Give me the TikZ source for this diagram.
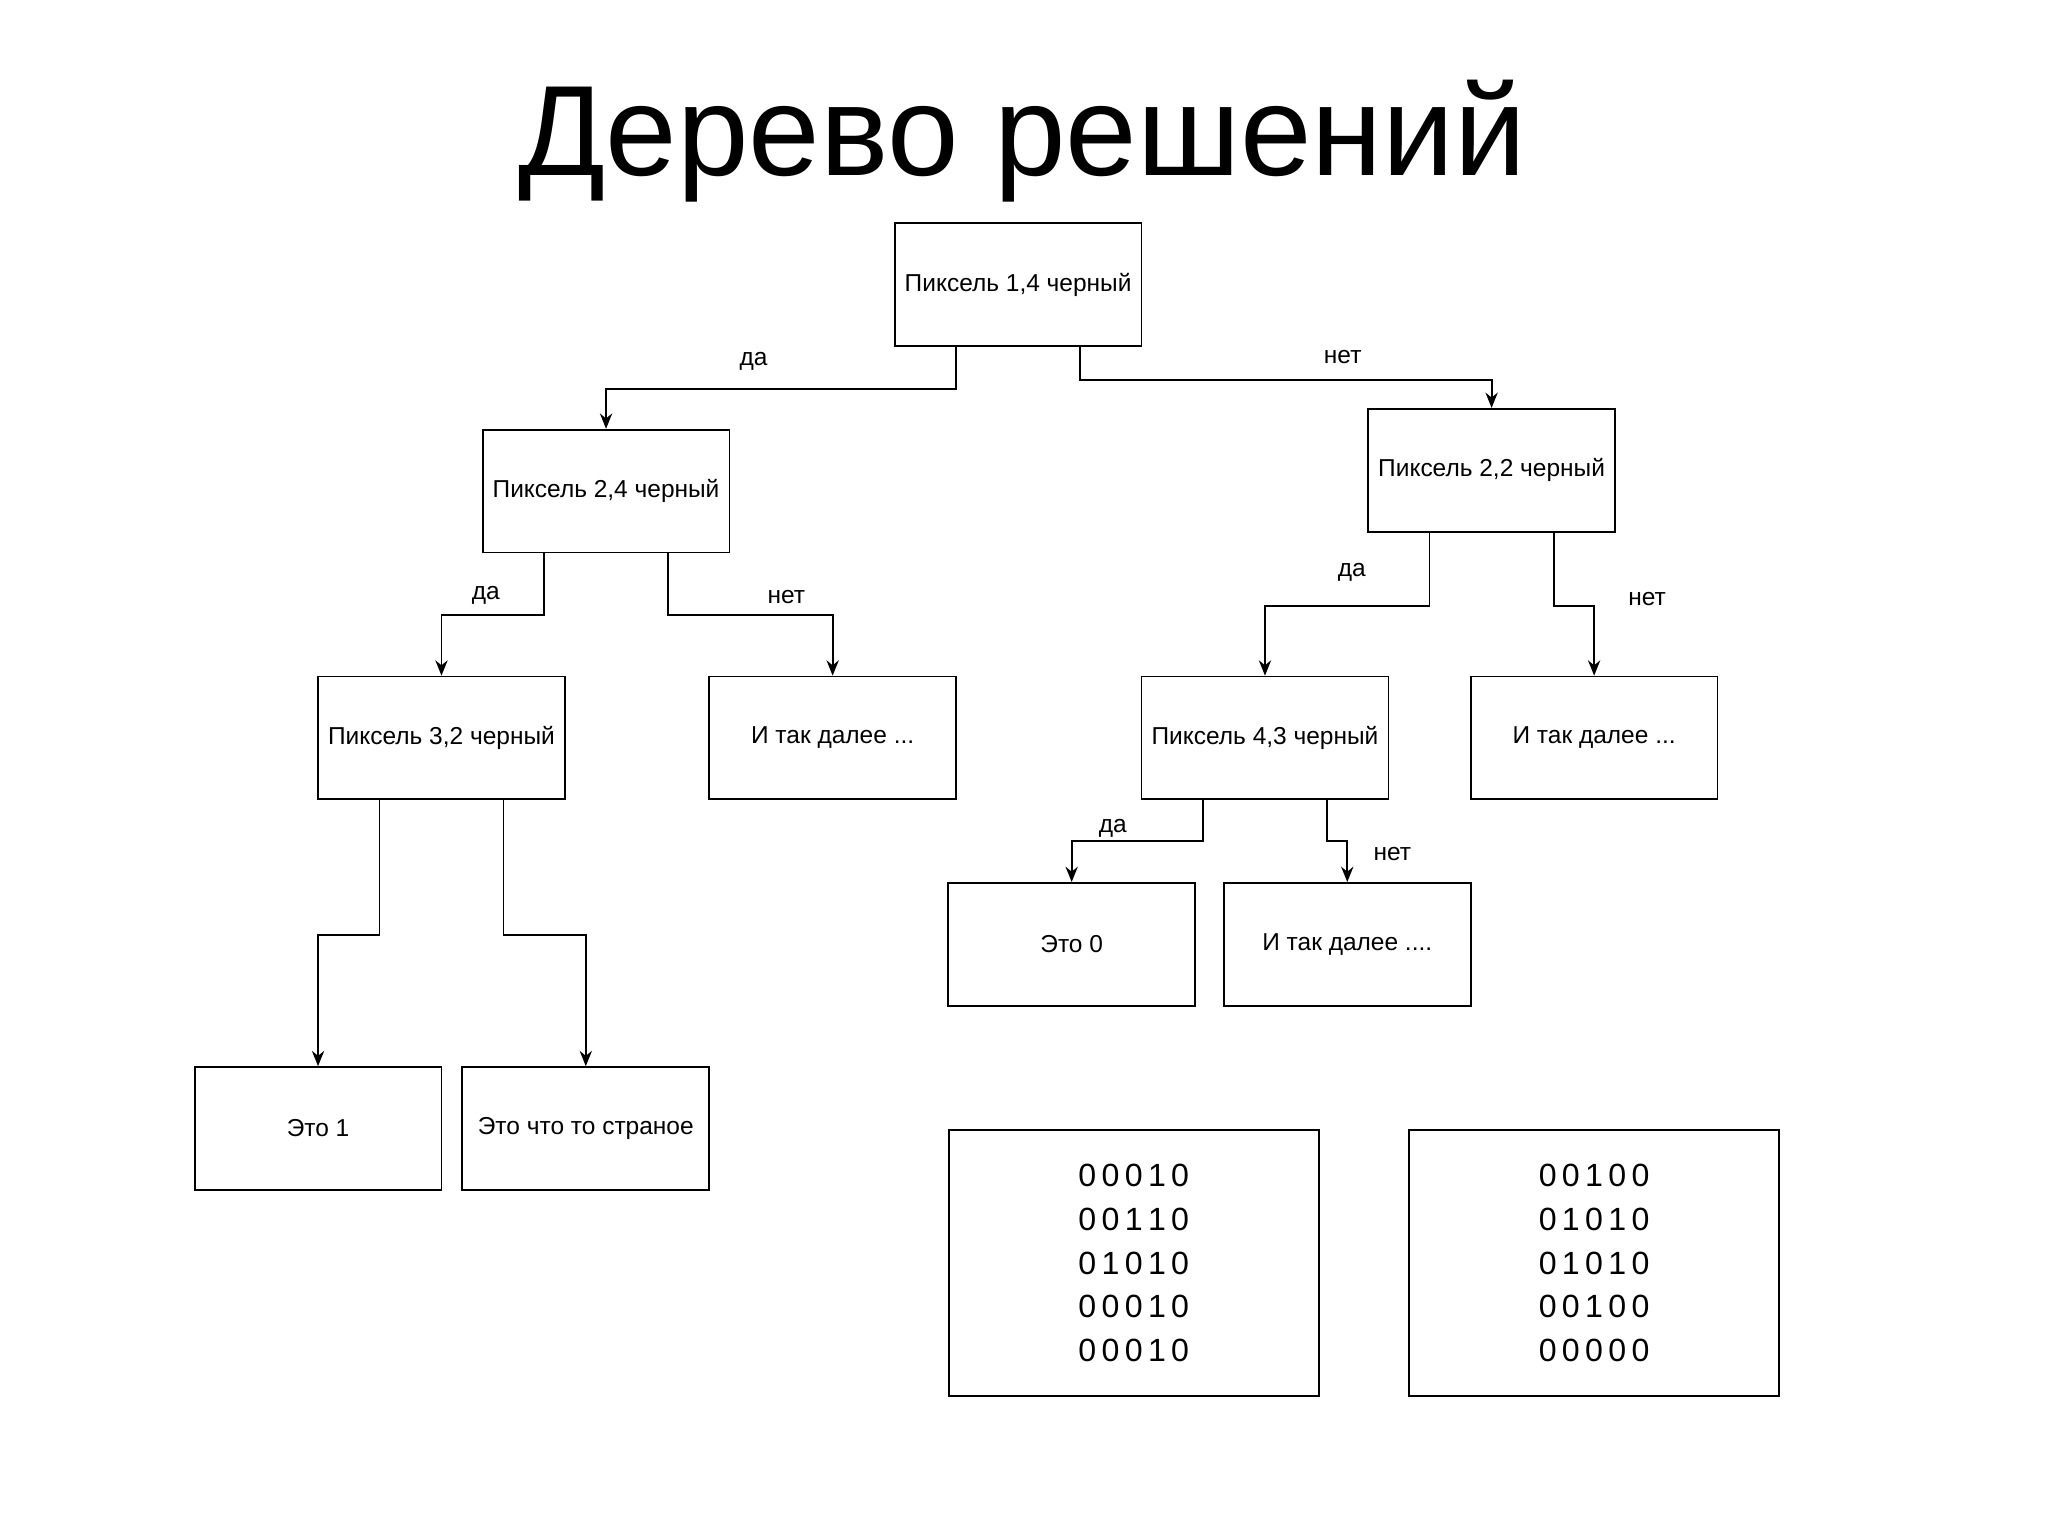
\documentclass[tikz,border=0pt]{standalone}
\usepackage{fontspec}
\setmainfont{Liberation Sans}
\usetikzlibrary{arrows.meta}
\begin{document}
\begin{tikzpicture}[x=0.03cm,y=-0.03cm,
  box/.style={draw,line width=1.2pt,minimum width=5.67cm,minimum height=2.82cm,inner sep=0pt,font=\fontsize{16}{19}\selectfont},
  bigbox/.style={draw,line width=1.2pt,minimum width=8.5cm,minimum height=6.12cm,inner sep=0pt,font=\fontsize{21}{28.5}\selectfont,align=center},
  arr/.style={line width=1.2pt,-{Stealth[length=10pt,width=8pt]}},
  lbl/.style={font=\fontsize{16}{19}\selectfont}]
\useasboundingbox (0,0) rectangle (1568,1176);
\node[font=\fontsize{84}{90}\selectfont] (title) at (783,108) {Дерево решений};
\node[box] (A) at (779.5,218) {Пиксель 1,4 черный};
\node[box] (B) at (464,376) {Пиксель 2,4 черный};
\node[box] (C) at (1142,360) {Пиксель 2,2 черный};
\node[box] (D) at (338,565) {Пиксель 3,2 черный};
\node[box] (E) at (637.5,565) {И так далее ...};
\node[box] (F) at (968.5,565) {Пиксель 4,3 черный};
\node[box] (G) at (1220.5,565) {И так далее ...};
\node[box] (H) at (820.5,723) {Это 0};
\node[box] (I) at (1031.5,723) {И так далее ....};
\node[box] (J) at (243.5,864) {Это 1};
\node[box] (K) at (448.5,864) {Это что то страное};
\node[bigbox] (L) at (868,967) {0\,0\,0\,1\,0\\0\,0\,1\,1\,0\\0\,1\,0\,1\,0\\0\,0\,0\,1\,0\\0\,0\,0\,1\,0};
\node[bigbox] (M) at (1220.5,967) {0\,0\,1\,0\,0\\0\,1\,0\,1\,0\\0\,1\,0\,1\,0\\0\,0\,1\,0\,0\\0\,0\,0\,0\,0};
\draw[arr] ([xshift=-1.425cm]A.south) -- ++(0,32) -| (B.north);
\draw[arr] ([xshift=1.425cm]A.south) -- ++(0,25) -| (C.north);
\draw[arr] ([xshift=-1.425cm]B.south) -- ++(0,47) -| (D.north);
\draw[arr] ([xshift=1.425cm]B.south) -- ++(0,47) -| (E.north);
\draw[arr] ([xshift=-1.425cm]C.south) -- ++(0,56) -| (F.north);
\draw[arr] ([xshift=1.425cm]C.south) -- ++(0,56) -| (G.north);
\draw[arr] ([xshift=-1.425cm]F.south) -- ++(0,31) -| (H.north);
\draw[arr] ([xshift=1.425cm]F.south) -- ++(0,31) -| (I.north);
\draw[arr] ([xshift=-1.425cm]D.south) -- ++(0,103) -| (J.north);
\draw[arr] ([xshift=1.425cm]D.south) -- ++(0,103) -| (K.north);
\node[lbl] (l1) at (577,277) {да};
\node[lbl] (l2) at (1028,273) {нет};
\node[lbl] (l3) at (372,456) {да};
\node[lbl] (l4) at (602,457) {нет};
\node[lbl] (l5) at (1035,438) {да};
\node[lbl] (l6) at (1261,459) {нет};
\node[lbl] (l7) at (852,634) {да};
\node[lbl] (l8) at (1066,654) {нет};
\end{tikzpicture}
\end{document}
